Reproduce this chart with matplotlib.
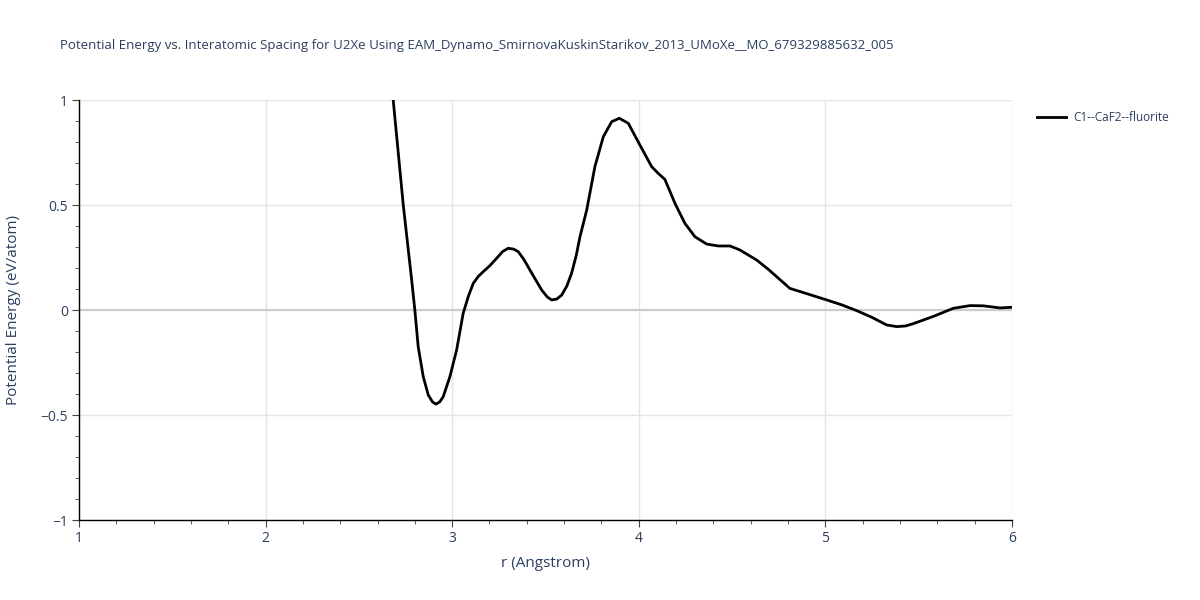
import numpy as np
import matplotlib.pyplot as plt
from matplotlib.ticker import MultipleLocator

# values
r = [2.65, 2.684, 2.738, 2.783, 2.80, 2.818, 2.845, 2.872, 2.895, 2.913, 2.933, 2.952, 2.988,
     3.024, 3.059, 3.086, 3.113, 3.140, 3.167, 3.203, 3.238, 3.270, 3.30, 3.330,
     3.354, 3.385, 3.417, 3.450, 3.480, 3.510, 3.533, 3.560, 3.587, 3.615, 3.640,
     3.665, 3.685, 3.721, 3.765, 3.810, 3.855, 3.896, 3.944, 4.006, 4.069, 4.105,
     4.140, 4.194, 4.247, 4.301, 4.364, 4.426, 4.489, 4.542, 4.632, 4.694, 4.750,
     4.810, 4.900, 5.007, 5.090, 5.168, 5.250, 5.328, 5.382, 5.430, 5.471, 5.580,
     5.685, 5.775, 5.846, 5.900, 5.936, 6.0]
energy = [1.32, 1.0, 0.50, 0.143, 0.0, -0.175, -0.317, -0.405, -0.438, -0.448, -0.438, -0.413, -0.317,
          -0.190, -0.016, 0.063, 0.127, 0.160, 0.183, 0.212, 0.246, 0.278, 0.294, 0.290,
          0.278, 0.240, 0.190, 0.140, 0.095, 0.062, 0.048, 0.052, 0.071, 0.115, 0.175,
          0.260, 0.349, 0.476, 0.683, 0.825, 0.897, 0.913, 0.889, 0.786, 0.683, 0.650,
          0.622, 0.508, 0.413, 0.349, 0.314, 0.305, 0.305, 0.286, 0.238, 0.194, 0.150,
          0.103, 0.078, 0.048, 0.024, -0.003, -0.035, -0.071, -0.079, -0.076, -0.065, -0.030,
          0.008, 0.021, 0.020, 0.014, 0.010, 0.013]
label = 'C1--CaF2--fluorite'
title = ('Potential Energy vs. Interatomic Spacing for U2Xe Using '
         'EAM_Dynamo_SmirnovaKuskinStarikov_2013_UMoXe__MO_679329885632_005')

txt = '#2a3f5f'
plt.rcParams['font.family'] = ['Open Sans', 'DejaVu Sans']

fig = plt.figure(figsize=(12, 6), dpi=100)
ax = fig.add_axes([0.0658, 0.1333, 0.7775, 0.7])

ax.plot(r, energy, color='black', lw=2, label=label, solid_joinstyle='round')

ax.set_xlim(1, 6)
ax.set_ylim(-1, 1)
ax.xaxis.set_major_locator(MultipleLocator(1))
ax.xaxis.set_minor_locator(MultipleLocator(0.2))
ax.yaxis.set_major_locator(MultipleLocator(0.5))
ax.yaxis.set_minor_locator(MultipleLocator(0.1))
ax.set_yticks([-1, -0.5, 0, 0.5, 1])
ax.set_yticklabels(['\u22121', '\u22120.5', '0', '0.5', '1'])

ax.grid(True, which='major', color='#e5e5e5', lw=1)
ax.axhline(0, color='#cccccc', lw=1.5, zorder=1)
ax.set_axisbelow(True)

for s in ['top', 'right']:
    ax.spines[s].set_visible(False)
for s in ['left', 'bottom']:
    ax.spines[s].set_color('black')
    ax.spines[s].set_linewidth(1)

ax.tick_params(which='major', direction='out', length=5, color='#444444',
               labelcolor=txt, labelsize=10, pad=3)
ax.tick_params(which='minor', direction='out', length=3, color='#444444')

ax.set_xlabel('r (Angstrom)', color=txt, fontsize=11, labelpad=7)
ax.set_ylabel('Potential Energy (eV/atom)', color=txt, fontsize=11, labelpad=14)

fig.text(0.05, 0.925, title, color=txt, fontsize=9.5, ha='left', va='center')

leg = ax.legend(loc='upper left', bbox_to_anchor=(1.015, 0.998), frameon=False,
                fontsize=8.5, handlelength=2.5, handletextpad=0.6)
for t in leg.get_texts():
    t.set_color(txt)

fig.savefig('out.png', dpi=100)
